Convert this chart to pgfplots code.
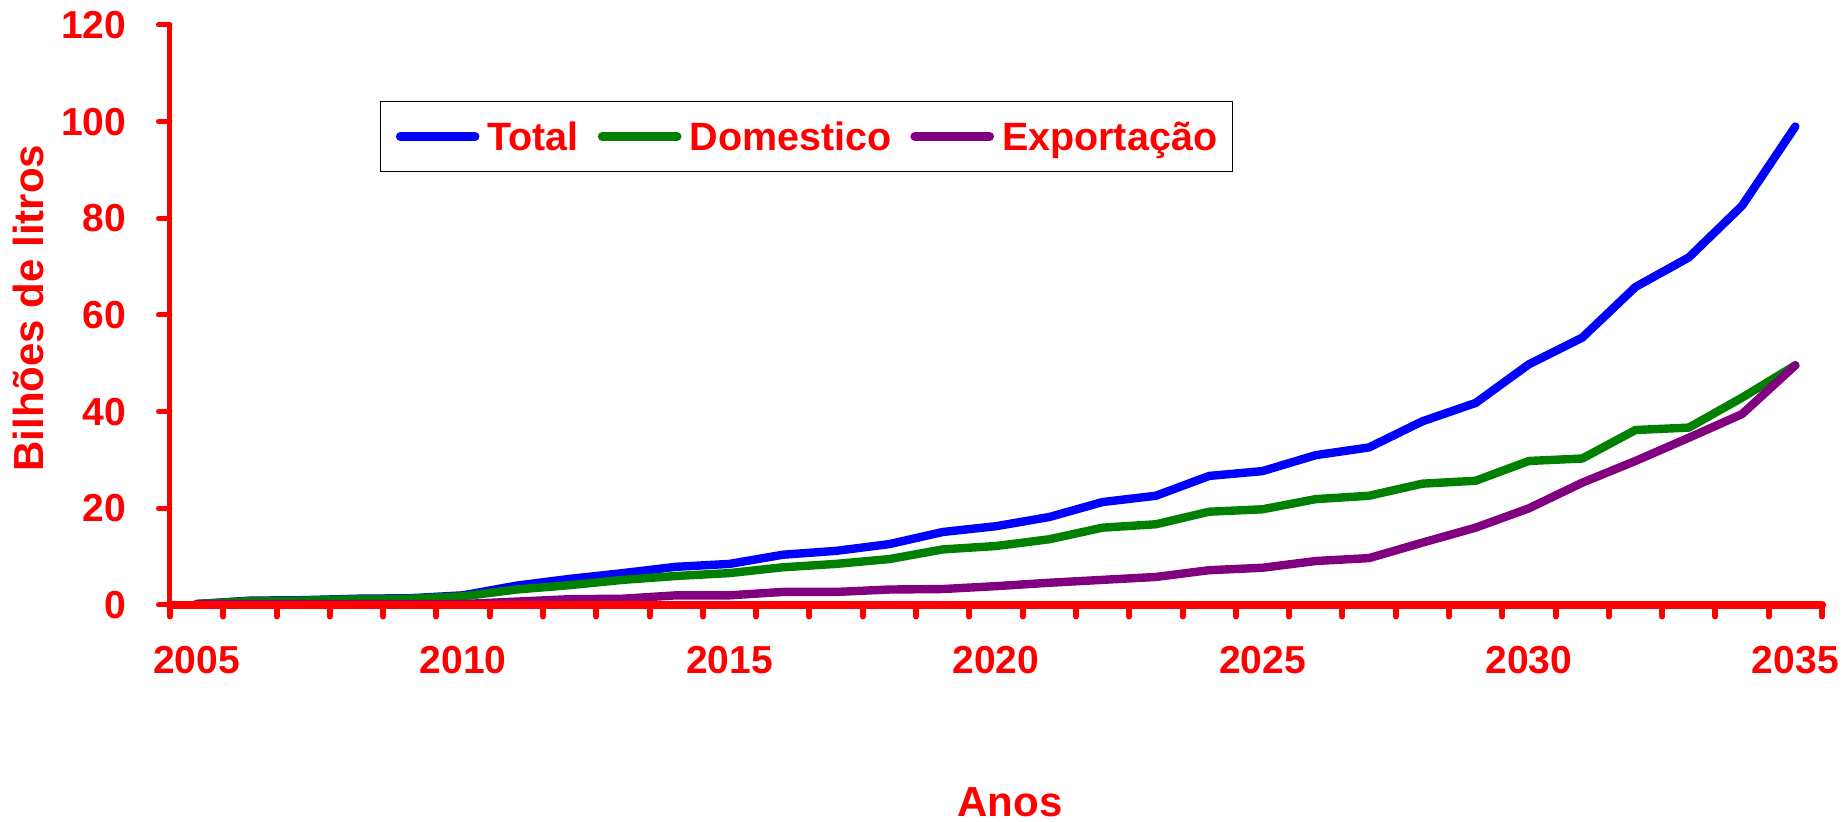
\documentclass[border=0pt]{standalone}
\usepackage{pgfplots}
\pgfplotsset{compat=1.18}
\usepackage{pgfplotstable}
\usepackage{fontspec}
\setmainfont{Liberation Sans}
\definecolor{cblue}{RGB}{0,0,255}
\definecolor{cgreen}{RGB}{0,128,0}
\definecolor{cpurple}{RGB}{128,0,128}
\definecolor{cred}{RGB}{255,0,0}

\pgfplotstableread{
year total dom exp
2005 0.2 0.2 0.2
2006 0.9 0.8 0.2
2007 1.0 0.9 0.2
2008 1.3 1.2 0.2
2009 1.4 1.3 0.2
2010 2.0 1.8 0.2
2011 4.0 3.2 0.7
2012 5.4 4.1 1.2
2013 6.6 5.2 1.3
2014 7.9 6.0 2.0
2015 8.5 6.6 2.0
2016 10.4 7.8 2.7
2017 11.2 8.5 2.7
2018 12.6 9.5 3.2
2019 15.1 11.5 3.3
2020 16.3 12.2 3.9
2021 18.2 13.6 4.6
2022 21.3 16.0 5.2
2023 22.6 16.7 5.8
2024 26.7 19.3 7.2
2025 27.7 19.8 7.7
2026 31.0 21.9 9.1
2027 32.6 22.6 9.7
2028 38.0 25.1 12.9
2029 41.8 25.7 16.0
2030 49.8 29.8 20.0
2031 55.3 30.3 25.3
2032 65.8 36.2 29.8
2033 71.9 36.7 34.6
2034 82.6 42.9 39.5
2035 99.0 49.6 49.6
}\data

\begin{document}
\begin{tikzpicture}
\useasboundingbox (-85pt,-108.5pt) rectangle (836.5pt,302.5pt);
\begin{axis}[
  at={(0pt,0pt)}, anchor=south west,
  scale only axis, width=826pt, height=290pt,
  xmin=2004.5, xmax=2035.5, ymin=0, ymax=120,
  axis lines=left,
  axis on top,
  clip=false,
  x axis line style={-, draw=cred, line width=4.25pt, line cap=round},
  y axis line style={-, draw=cred, line width=2.5pt},
  xtick={2004.5,2005.5,2006.5,2007.5,2008.5,2009.5,2010.5,2011.5,2012.5,2013.5,2014.5,2015.5,2016.5,2017.5,2018.5,2019.5,2020.5,2021.5,2022.5,2023.5,2024.5,2025.5,2026.5,2027.5,2028.5,2029.5,2030.5,2031.5,2032.5,2033.5,2034.5,2035.5},
  xticklabels={},
  extra x ticks={2005,2010,2015,2020,2025,2030,2035},
  extra x tick labels={2005,2010,2015,2020,2025,2030,2035},
  extra x tick style={major tick length=0pt},
  ytick={0,20,40,60,80,100,120},
  tick align=outside,
  major tick length=5.75pt,
  xtick style={draw=cred, line width=3pt, line cap=round},
  ytick style={draw=cred, line width=2.5pt, line cap=round},
  /pgf/number format/assume math mode=true,
  xticklabel style={font=\fontsize{19.5}{22}\selectfont\bfseries, text=cred, anchor=north, inner sep=0pt, yshift=-20.5pt},
  yticklabel style={font=\fontsize{19.5}{22}\selectfont\bfseries, text=cred, anchor=east, inner sep=0pt, xshift=-16pt},
  xlabel={Anos},
  xlabel style={at={(axis description cs:0.5085,-0.3397)}, anchor=center, font=\fontsize{21}{24}\selectfont\bfseries, text=cred, inner sep=0pt},
  ylabel={Bilhões de litros},
  ylabel style={at={(axis description cs:-0.0854,0.512)}, anchor=center, font=\fontsize{21}{24}\selectfont\bfseries, text=cred, inner sep=0pt},
  legend columns=3,
  legend image code/.code={\draw[line width=4.3pt, line cap=round] (0pt,0pt) -- (37.5pt,0pt);},
  legend style={at={(0.3853,0.8078)}, anchor=center, draw=black, line width=0.6pt,
    inner xsep=7.5pt, inner ysep=10.5pt,
    font=\fontsize{19.75}{22}\selectfont\bfseries, text=cred,
    nodes={inner sep=0pt, text depth=0pt},
    /tikz/every even column/.append style={column sep=9.5pt},
    /tikz/every odd column/.append style={column sep=4pt}},
]
\addplot[cblue, line width=4.2pt, line join=round, line cap=round] table[x=year,y=total]{\data};
\addlegendentry{Total}
\addplot[cgreen, line width=4.2pt, line join=round, line cap=round] table[x=year,y=dom]{\data};
\addlegendentry{Domestico}
\addplot[cpurple, line width=4.2pt, line join=round, line cap=round] table[x=year,y=exp]{\data};
\addlegendentry{Exportação}
\end{axis}
\end{tikzpicture}
\end{document}
